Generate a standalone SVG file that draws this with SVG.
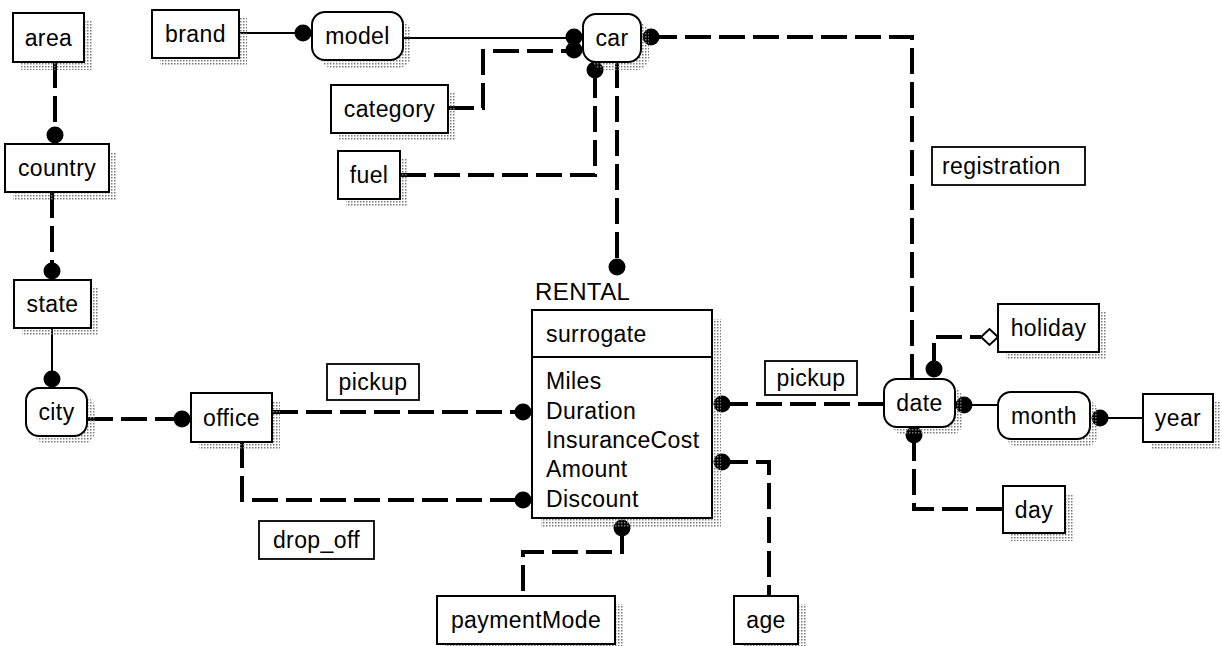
<svg xmlns="http://www.w3.org/2000/svg" width="1222" height="646" viewBox="0 0 1222 646">
<defs>
<pattern id="stip" width="3" height="3" patternUnits="userSpaceOnUse">
<rect x="0" y="0" width="1.5" height="1.5" fill="#777"/>
</pattern>
<style>
.box{fill:#fff;stroke:#000;stroke-width:2}
.lbl{fill:#fff;stroke:#000;stroke-width:1.8}
.sh{fill:url(#stip);stroke:none}
.t{font-family:"Liberation Sans",Arial,sans-serif;font-size:23px;letter-spacing:0.4px;fill:#000}
.c{text-anchor:middle}
.dash{fill:none;stroke:#000;stroke-width:4;stroke-dasharray:26 8}
.solid{fill:none;stroke:#000;stroke-width:2}
.dot{fill:#000}
</style>
</defs>
<rect width="1222" height="646" fill="#fff"/>

<g id="connectors">
<path class="dash" d="M55,62 V135"/>
<circle class="dot" cx="55" cy="135" r="8.5"/>
<path class="dash" d="M52,192 V271"/>
<circle class="dot" cx="52" cy="271" r="8.5"/>
<path class="solid" d="M52,328 V379"/>
<circle class="dot" cx="52" cy="379" r="8.5"/>
<path class="dash" d="M87,419 H182"/>
<circle class="dot" cx="182" cy="419" r="8.5"/>
<path class="solid" d="M239,33 H303"/>
<circle class="dot" cx="303" cy="33" r="8.5"/>
<path class="solid" d="M403,38 H574"/>
<circle class="dot" cx="574" cy="37" r="8.5"/>
<path class="dash" d="M448,108 H483 V51 H574"/>
<circle class="dot" cx="574" cy="50" r="8.5"/>
<path class="dash" d="M400,175 H595 V70"/>
<circle class="dot" cx="595" cy="70" r="8.5"/>
<path class="dash" d="M617,62 V267"/>
<circle class="dot" cx="617" cy="267" r="8.5"/>
<path class="dash" d="M651,37 H912 V379"/>
<circle class="dot" cx="651" cy="37" r="8.5"/>
<path class="dash" d="M272,412 H523"/>
<circle class="dot" cx="523" cy="412" r="8.5"/>
<path class="dash" d="M242,442 V500 H523"/>
<circle class="dot" cx="523" cy="500" r="8.5"/>
<path class="dash" d="M722,404 H884"/>
<circle class="dot" cx="722" cy="404" r="8.5"/>
<path class="dash" d="M722,462 H769 V596"/>
<circle class="dot" cx="722" cy="462" r="8.5"/>
<path class="dash" d="M622,528 V552 H523 V596"/>
<circle class="dot" cx="622" cy="528" r="8.5"/>
<path class="dash" d="M934,369 V337 H981"/>
<circle class="dot" cx="934" cy="369" r="8.5"/>
<polygon points="981,337 989.5,329 998,337 989.5,345" fill="#fff" stroke="#000" stroke-width="2"/>
<path class="solid" d="M964,405 H998"/>
<circle class="dot" cx="964" cy="405" r="8.5"/>
<path class="solid" d="M1100,418 H1143"/>
<circle class="dot" cx="1100" cy="418" r="8.5"/>
<path class="dash" d="M914,435 V509 H1003"/>
<circle class="dot" cx="914" cy="435" r="8.5"/>
</g>

<g id="area"><rect class="sh" x="21" y="21" width="71" height="49"/><rect class="box" x="13" y="13" width="71" height="49"/><text class="t c" x="48.5" y="45.5">area</text></g>
<g id="brand"><rect class="sh" x="160" y="18" width="87" height="48"/><rect class="box" x="152" y="10" width="87" height="48"/><text class="t c" x="195.5" y="42">brand</text></g>
<g id="model"><rect class="sh" x="320" y="20" width="91" height="48" rx="13"/><rect class="box" x="312" y="12" width="91" height="48" rx="13"/><text class="t c" x="357.5" y="44">model</text></g>
<g id="car"><rect class="sh" x="591" y="22" width="58" height="48" rx="13"/><rect class="box" x="583" y="14" width="58" height="48" rx="13"/><text class="t c" x="612" y="46">car</text></g>
<g id="category"><rect class="sh" x="339" y="93" width="117" height="48"/><rect class="box" x="331" y="85" width="117" height="48"/><text class="t c" x="389.5" y="117">category</text></g>
<g id="fuel"><rect class="sh" x="346" y="159" width="62" height="48"/><rect class="box" x="338" y="151" width="62" height="48"/><text class="t c" x="369" y="183">fuel</text></g>
<g id="country"><rect class="sh" x="13" y="152" width="104" height="48"/><rect class="box" x="5" y="144" width="104" height="48"/><text class="t c" x="57" y="176">country</text></g>
<g id="state"><rect class="sh" x="22" y="288" width="77" height="48"/><rect class="box" x="14" y="280" width="77" height="48"/><text class="t c" x="52.5" y="312">state</text></g>
<g id="city"><rect class="sh" x="34" y="396" width="61" height="48" rx="13"/><rect class="box" x="26" y="388" width="61" height="48" rx="13"/><text class="t c" x="56.5" y="420">city</text></g>
<g id="office"><rect class="sh" x="199" y="401" width="81" height="49"/><rect class="box" x="191" y="393" width="81" height="49"/><text class="t c" x="231.5" y="425.5">office</text></g>

<g id="rental">
<text class="t" x="535" y="300" style="font-size:24px">RENTAL</text>
<rect class="sh" x="541" y="319" width="180" height="208"/>
<rect class="box" x="532" y="310" width="180" height="208"/>
<line x1="532" y1="357" x2="712" y2="357" stroke="#000" stroke-width="2"/>
<text class="t" x="546" y="342">surrogate</text>
<text class="t" x="546" y="389">Miles</text>
<text class="t" x="546" y="419">Duration</text>
<text class="t" x="546" y="448">InsuranceCost</text>
<text class="t" x="546" y="477">Amount</text>
<text class="t" x="546" y="507">Discount</text>
</g>

<g id="paymentMode"><rect class="sh" x="445" y="604" width="178" height="48"/><rect class="box" x="437" y="596" width="178" height="48"/><text class="t c" x="526" y="628">paymentMode</text></g>
<g id="age"><rect class="sh" x="742" y="604" width="64" height="48"/><rect class="box" x="734" y="596" width="64" height="48"/><text class="t c" x="766" y="628">age</text></g>
<g id="date"><rect class="sh" x="892" y="387" width="71" height="48" rx="13"/><rect class="box" x="884" y="379" width="71" height="48" rx="13"/><text class="t c" x="919.5" y="411">date</text></g>
<g id="holiday"><rect class="sh" x="1006" y="312" width="101" height="48"/><rect class="box" x="998" y="304" width="101" height="48"/><text class="t c" x="1048.5" y="336">holiday</text></g>
<g id="month"><rect class="sh" x="1006" y="400" width="92" height="47" rx="13"/><rect class="box" x="998" y="392" width="92" height="47" rx="13"/><text class="t c" x="1044" y="423.5">month</text></g>
<g id="year"><rect class="sh" x="1151" y="402" width="70" height="48"/><rect class="box" x="1143" y="394" width="70" height="48"/><text class="t c" x="1178" y="426">year</text></g>
<g id="day"><rect class="sh" x="1011" y="494" width="62" height="47"/><rect class="box" x="1003" y="486" width="62" height="47"/><text class="t c" x="1034" y="517.5">day</text></g>

<g id="label-pickup-office"><rect class="lbl" x="327" y="364" width="92" height="36"/><text class="t c" x="373" y="390">pickup</text></g>
<g id="label-drop_off"><rect class="lbl" x="259" y="521" width="115" height="38"/><text class="t c" x="316.5" y="548">drop_off</text></g>
<g id="label-pickup-date"><rect class="lbl" x="765" y="361" width="92" height="34"/><text class="t c" x="811" y="386">pickup</text></g>
<g id="label-registration"><rect class="lbl" x="932" y="147" width="153" height="38"/><text class="t" x="942" y="174">registration</text></g>
</svg>
